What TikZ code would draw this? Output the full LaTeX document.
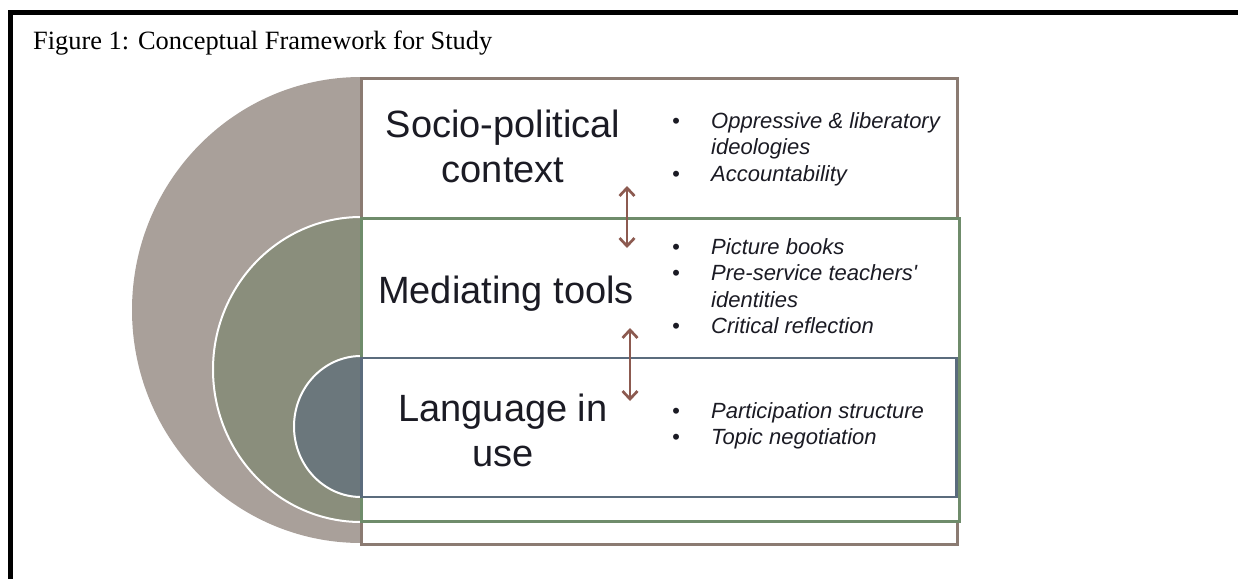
\documentclass[tikz,border=0pt]{standalone}
\usepackage{fontspec}
\setmainfont{Liberation Serif}
\newfontfamily\arialf{Liberation Sans}
\usetikzlibrary{arrows.meta}
\definecolor{outerc}{HTML}{A9A09A}
\definecolor{midc}{HTML}{8A8E7C}
\definecolor{innerc}{HTML}{6B777C}
\definecolor{brownb}{HTML}{8B7B72}
\definecolor{greenb}{HTML}{6F8C6B}
\definecolor{blueb}{HTML}{5B6C7D}
\definecolor{arrowc}{HTML}{8C5A50}
\definecolor{txt}{HTML}{1B1B24}
\tikzset{
  layerbox/.style={draw, fill=white, line width=2.5pt, minimum width=597pt, anchor=north west, inner sep=0pt},
  heading/.style={font=\arialf\fontsize{38}{45}\selectfont, text=txt, anchor=base, inner sep=0pt},
  bullets/.style={font=\arialf\itshape\fontsize{22}{26.6}\selectfont, text=txt, anchor=base west, inner sep=0pt},
  linkarrow/.style={draw=arrowc, line width=2.7pt, {Straight Barb[length=8pt,width=15pt]}-{Straight Barb[length=8pt,width=15pt]}}
}
\newcommand{\bitem}[1]{\makebox[37pt][l]{\hspace{-2pt}\textbullet} & #1}
\begin{document}
\begin{tikzpicture}[x=1pt,y=-1pt]
\useasboundingbox (0,0) rectangle (1238,578);
\clip (0,0) rectangle (1238,578);
\fill[white] (0,0) rectangle (1238,578);
% frame
\draw[line width=5pt, black] (10.5,620) -- (10.5,13) -- (1260,13);
\node[font=\fontsize{26.4}{30}\selectfont, anchor=base west, inner sep=0pt] (title) at (33,50) {Figure 1: Conceptual Framework for Study};
% semicircles
\fill[outerc] (361,310) ellipse[x radius=229, y radius=233];
\filldraw[fill=midc, draw=white, line width=2pt] (361,369.5) ellipse[x radius=148, y radius=152.5];
\filldraw[fill=innerc, draw=white, line width=2pt] (361,426.5) ellipse[x radius=67, y radius=70.5];
% boxes
\node[layerbox, draw=brownb, minimum width=596pt, minimum height=466pt] (outerbox) at (360,77) {};
\node[layerbox, draw=greenb, minimum width=598pt, minimum height=303pt] (midbox) at (360,217) {};
\node[layerbox, draw=blueb, minimum width=595pt, minimum height=139pt] (innerbox) at (360,356.5) {};
% headings
\node[heading] (soc) at (503,137) {\begin{tabular}[t]{@{}c@{}}Socio-political\\context\end{tabular}};
\node[heading] (med) at (506,303) {Mediating tools};
\node[heading] (lang) at (503,421) {\begin{tabular}[t]{@{}c@{}}Language in\\use\end{tabular}};
% bullet lists
\node[bullets] (l1) at (674,128) {\begin{tabular}[t]{@{}l@{}l@{}}
\bitem{Oppressive \& liberatory}\\
 & ideologies\\
\bitem{Accountability}\end{tabular}};
\node[bullets] (l2) at (674,254) {\begin{tabular}[t]{@{}l@{}l@{}}
\bitem{Picture books}\\
\bitem{Pre-service teachers'}\\
 & identities\\
\bitem{Critical reflection}\end{tabular}};
\node[bullets] (l3) at (674,418) {\begin{tabular}[t]{@{}l@{}l@{}}
\bitem{Participation structure}\\
\bitem{Topic negotiation}\end{tabular}};
% arrows
\coordinate (a1t) at (627,186);
\coordinate (a1b) at (627,248);
\coordinate (a2t) at (630,328);
\coordinate (a2b) at (630,401);
\draw[linkarrow] (a1t) -- (a1b);
\draw[linkarrow] (a2t) -- (a2b);
\end{tikzpicture}
\end{document}
